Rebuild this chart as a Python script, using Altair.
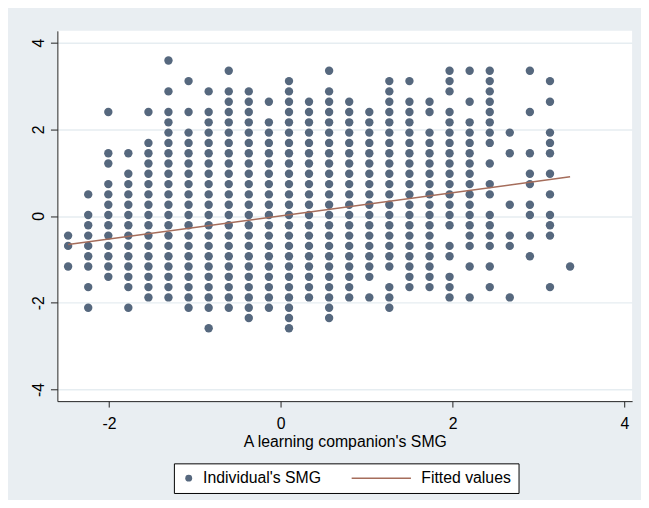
import altair as alt
import pandas as pd

# x positions of the point columns
x_levels = [-2.475, -2.241, -2.007, -1.774, -1.540, -1.307, -1.073, -0.839, -0.605,
            -0.372, -0.138, 0.096, 0.329, 0.563, 0.797, 1.031, 1.264, 1.498,
            1.732, 1.965, 2.199, 2.433, 2.666, 2.900, 3.134, 3.368]
# y positions of the point rows
y_levels = [-2.590, -2.353, -2.115, -1.878, -1.640, -1.403, -1.165, -0.928, -0.690,
            -0.453, -0.215, 0.023, 0.260, 0.498, 0.735, 0.973, 1.210, 1.448,
            1.685, 1.923, 2.160, 2.398, 2.635, 2.873, 3.110, 3.348, 3.585]
# which rows are occupied in each column (indices into y_levels)
column_rows = [
    [6, 8, 9],
    [2, 4, 6, 7, 8, 9, 10, 11, 13],
    [5, 6, 7, 8, 9, 10, 11, 12, 13, 14, 16, 17, 21],
    [2, 4, 5, 6, 7, 8, 9, 10, 11, 12, 13, 14, 15, 17],
    [3, 4, 5, 6, 7, 8, 9, 10, 11, 12, 13, 14, 15, 16, 17, 18, 21],
    [3, 4, 5, 6, 7, 8, 9, 10, 11, 12, 13, 14, 15, 16, 17, 18, 19, 20, 21, 23, 26],
    [2, 3, 4, 5, 6, 7, 8, 9, 10, 11, 12, 13, 14, 15, 16, 17, 18, 19, 21, 24],
    [0, 2, 3, 4, 5, 6, 7, 8, 9, 10, 11, 12, 13, 14, 15, 16, 17, 18, 19, 20, 21, 23],
    [2, 3, 4, 5, 6, 7, 8, 9, 10, 11, 12, 13, 14, 15, 16, 17, 18, 19, 20, 21, 22, 23, 25],
    [1, 2, 3, 4, 5, 6, 7, 8, 9, 10, 11, 12, 13, 14, 15, 16, 17, 18, 19, 20, 21, 22, 23],
    [2, 3, 4, 5, 6, 7, 8, 9, 10, 11, 12, 13, 14, 15, 16, 17, 18, 19, 20, 22],
    [0, 1, 2, 3, 4, 5, 6, 7, 8, 9, 10, 11, 12, 13, 14, 15, 16, 17, 18, 19, 20, 21, 22, 23, 24],
    [3, 4, 5, 6, 7, 8, 9, 10, 11, 12, 13, 14, 15, 16, 17, 18, 19, 20, 21, 22],
    [1, 2, 3, 4, 5, 6, 7, 8, 9, 10, 11, 12, 13, 14, 15, 16, 17, 18, 19, 20, 21, 22, 23, 25],
    [3, 4, 5, 6, 7, 8, 9, 10, 11, 12, 13, 14, 15, 16, 17, 18, 19, 20, 21, 22],
    [3, 5, 6, 7, 8, 9, 10, 11, 12, 13, 14, 15, 16, 17, 18, 19, 20, 21],
    [2, 3, 4, 6, 7, 8, 9, 10, 11, 12, 13, 14, 15, 16, 17, 18, 19, 20, 21, 22, 23, 24],
    [4, 5, 6, 7, 8, 9, 10, 11, 12, 13, 14, 15, 16, 17, 18, 19, 20, 21, 22, 24],
    [4, 5, 6, 7, 8, 9, 10, 11, 12, 13, 14, 15, 16, 17, 18, 19, 21, 22],
    [3, 4, 5, 7, 8, 10, 11, 12, 13, 14, 15, 16, 17, 18, 19, 20, 21, 23, 24, 25],
    [3, 6, 8, 9, 10, 11, 12, 13, 14, 15, 16, 17, 18, 19, 20, 22, 25],
    [4, 6, 8, 9, 10, 11, 13, 14, 16, 18, 19, 20, 21, 22, 23, 24, 25],
    [3, 8, 9, 12, 17, 19],
    [7, 9, 11, 12, 14, 15, 17, 21, 25],
    [4, 9, 10, 11, 13, 15, 17, 18, 19, 22, 24],
    [6],
]
# fitted line end points
fit_x = [-2.475, 3.368]
fit_y = [-0.66, 0.904]

series_names = ["Individual's SMG", "Fitted values"]
series_colors = ["#56687E", "#A56D5B"]
x_ticks = [-2, 0, 2, 4]
y_ticks = [-4, -2, 0, 2, 4]

rows = []
for xv, js in zip(x_levels, column_rows):
    for j in js:
        rows.append({"x": xv, "y": y_levels[j], "series": series_names[0]})
pts = pd.DataFrame(rows)
fit = pd.DataFrame({"x": fit_x, "y": fit_y, "series": series_names[1]})

FONT = "Liberation Sans"
HYPHEN = "datum.value < 0 ? '-' + format(-datum.value, 'd') : format(datum.value, 'd')"
x_scale = alt.Scale(domain=[-2.6, 4.09], nice=False, zero=False)
y_scale = alt.Scale(domain=[-4.27, 4.27], nice=False, zero=False)

x_axis = alt.Axis(values=x_ticks, title="A learning companion's SMG", grid=False,
                  tickSize=6, labelPadding=9, labelFontSize=16, titleFontSize=16,
                  titleFontWeight="normal", titleY=46, titleBaseline="alphabetic",
                  labelFlush=False, labelExpr=HYPHEN,
                  domainColor="#222222", tickColor="#222222",
                  labelColor="black", titleColor="black", labelFont=FONT, titleFont=FONT)
y_axis = alt.Axis(values=y_ticks, title=None, grid=True, gridColor="#E6EDF1", gridWidth=1.5,
                  tickSize=7, labelPadding=7, labelAngle=270, labelAlign="center",
                  labelBaseline="alphabetic", labelFontSize=16, labelFont=FONT,
                  labelFlush=False, labelExpr=HYPHEN,
                  domainColor="#222222", tickColor="#222222",
                  labelColor="black")

legend = alt.Legend(title=None, orient="none", legendX=118, legendY=438,
                    direction="horizontal", symbolSize=49, symbolStrokeWidth=0,
                    labelFont=FONT, labelFontSize=16, labelColor="black",
                    labelOffset=6.5, columnPadding=30, padding=7,
                    strokeColor="black", fillColor="white", cornerRadius=0)

color_scale = alt.Scale(domain=series_names, range=series_colors)
shape_scale = alt.Scale(domain=series_names,
                        range=["circle", "M-16,-0.22L1.15,-0.22L1.15,0.22L-16,0.22Z"])

points = alt.Chart(pts).mark_point(filled=True, size=72, opacity=1, strokeWidth=0).encode(
    x=alt.X("x:Q", scale=x_scale, axis=x_axis),
    y=alt.Y("y:Q", scale=y_scale, axis=y_axis),
    color=alt.Color("series:N", scale=color_scale, legend=legend),
    shape=alt.Shape("series:N", scale=shape_scale, legend=legend),
)

line = alt.Chart(fit).mark_line(color=series_colors[1], strokeWidth=1.5).encode(
    x=alt.X("x:Q", scale=x_scale, axis=x_axis),
    y=alt.Y("y:Q", scale=y_scale, axis=y_axis),
)

chart = alt.layer(points, line).properties(
    width=582, height=375,
    background="#E9EEF2",
    padding={"left": 50, "top": 20, "right": 9, "bottom": 97},
    autosize=alt.AutoSizeParams(type="none"),
).configure_view(fill="white", strokeWidth=0)

chart.save("out.html", embed_options={"renderer": "svg", "actions": False})
